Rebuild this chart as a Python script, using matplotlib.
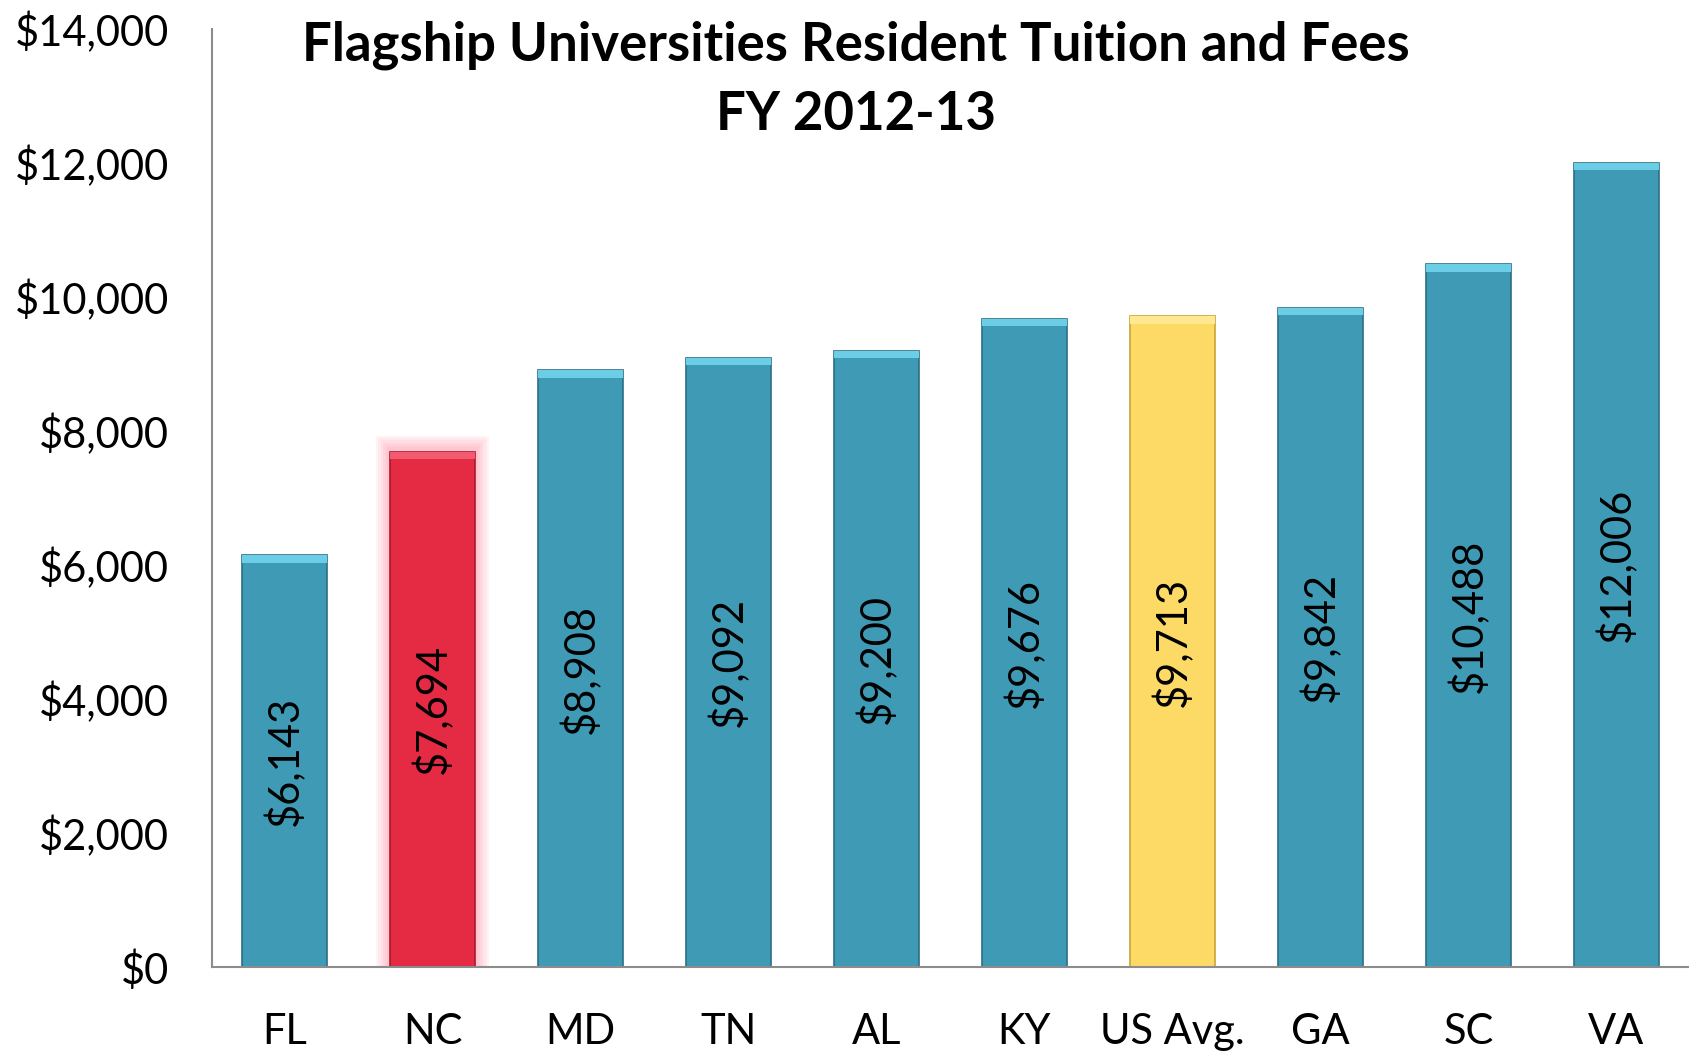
import matplotlib.pyplot as plt
from matplotlib.ticker import FuncFormatter

# datos
estados = ['FL', 'NC', 'MD', 'TN', 'AL', 'KY', 'US Avg.', 'GA', 'SC', 'VA']
colegiatura = [6143, 7694, 8908, 9092, 9200, 9676, 9713, 9842, 10488, 12006]
colores = ['#3E9AB5', '#E52A44', '#3E9AB5', '#3E9AB5', '#3E9AB5',
           '#3E9AB5', '#FDDA66', '#3E9AB5', '#3E9AB5', '#3E9AB5']
brillo = ['#6CCDE6', '#F25A72', '#6CCDE6', '#6CCDE6', '#6CCDE6',
          '#6CCDE6', '#FFE890', '#6CCDE6', '#6CCDE6', '#6CCDE6']
bordes = ['#2B6F84', '#A8192E', '#2B6F84', '#2B6F84', '#2B6F84',
          '#2B6F84', '#C9A437', '#2B6F84', '#2B6F84', '#2B6F84']

plt.rcParams['font.family'] = ['Lato', 'DejaVu Sans']

fig = plt.figure(figsize=(16.89, 10.51), dpi=100)
ax = fig.add_axes([212/1689, 1 - 967/1051, 1 - 212/1689, (967 - 29)/1051])

x = list(range(len(estados)))
ancho = 0.57

# brillo rosa alrededor de NC
i = estados.index('NC')
for k in range(6):
    ax.bar(x[i], colegiatura[i] + 60 + k*35, width=ancho + 0.04 + k*0.03,
           color='#FF8FA0', alpha=0.10, linewidth=0, zorder=1)

ax.bar(x, colegiatura, width=ancho, color=colores, edgecolor=bordes,
       linewidth=1.2, zorder=2)
# franja clara arriba (efecto bisel)
ax.bar(x, [110]*len(x), bottom=[v - 110 for v in colegiatura], width=ancho,
       color=brillo, linewidth=0, zorder=3)

for xi, v in zip(x, colegiatura):
    ax.text(xi, v/2, '${:,}'.format(v), rotation=90, ha='center', va='center',
            fontsize=30, color='black', zorder=4)

ax.set_xlim(-0.49, len(x) - 0.51)
ax.set_ylim(0, 14000)
ax.set_yticks(range(0, 14001, 2000))
ax.yaxis.set_major_formatter(FuncFormatter(lambda v, p: '${:,.0f}'.format(v)))
ax.set_xticks(x)
ax.set_xticklabels(estados)
ax.tick_params(axis='y', length=0, pad=31, labelsize=30)
ax.tick_params(axis='x', length=0, pad=33, labelsize=30)

for s in ['top', 'right']:
    ax.spines[s].set_visible(False)
for s in ['left', 'bottom']:
    ax.spines[s].set_color('#8C8C8C')
    ax.spines[s].set_linewidth(1.5)

fig.text(856/1689, 1 - 45/1051, 'Flagship Universities Resident Tuition and Fees',
         ha='center', va='center', fontsize=38, fontweight='bold')
fig.text(856/1689, 1 - 114/1051, 'FY 2012-13',
         ha='center', va='center', fontsize=38, fontweight='bold')

fig.savefig('out.png', dpi=100)
